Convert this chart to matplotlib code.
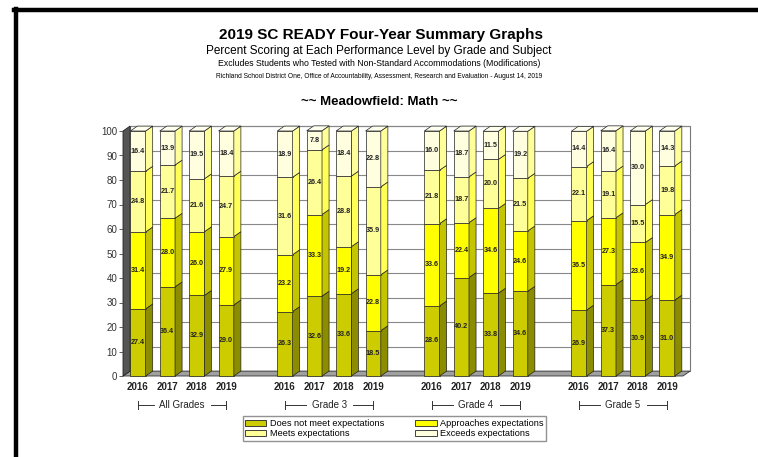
import matplotlib
import matplotlib.pyplot as plt
from matplotlib.patches import Polygon, Rectangle, Patch
from matplotlib.lines import Line2D
import matplotlib.transforms as mtransforms

matplotlib.use("Agg")
plt.rcParams['font.family'] = ['Liberation Sans', 'DejaVu Sans']

groups = ["All Grades", "Grade 3", "Grade 4", "Grade 5"]
years = ["2016", "2017", "2018", "2019"]
levels = ["Does not meet expectations", "Approaches expectations",
          "Meets expectations", "Exceeds expectations"]

# one value per bar, groups in order, years inside each group
does_not_meet = [27.4, 36.4, 32.9, 29.0, 26.3, 32.6, 33.6, 18.5,
                 28.6, 40.2, 33.8, 34.6, 26.9, 37.3, 30.9, 31.0]
approaches = [31.4, 28.0, 26.0, 27.9, 23.2, 33.3, 19.2, 22.8,
              33.6, 22.4, 34.6, 24.6, 36.5, 27.3, 23.6, 34.9]
meets = [24.8, 21.7, 21.6, 24.7, 31.6, 26.4, 28.8, 35.9,
         21.8, 18.7, 20.0, 21.5, 22.1, 19.1, 15.5, 19.8]
exceeds = [16.4, 13.9, 19.5, 18.4, 18.9, 7.8, 18.4, 22.8,
           16.0, 18.7, 11.5, 19.2, 14.4, 16.4, 30.0, 14.3]

front_colors = ["#CCCC00", "#FFFF00", "#FFFF99", "#FFFFE0"]
side_colors = ["#8C8C00", "#C4C400", "#FFFF55", "#FFFF99"]

fig = plt.figure(figsize=(7.58, 4.57), dpi=100)
ax = fig.add_axes([123 / 758, 1 - 376 / 457, 560 / 758, 245 / 457])
x0, x1 = -0.51, 18.54
ax.set_xlim(x0, x1)
ax.set_ylim(0, 100)
for s in ax.spines.values():
    s.set_visible(False)

dx, dy = 0.24, 2.0   # depth offset
w = 0.52

# back wall + grid
ax.add_patch(Rectangle((x0 + dx, dy), x1 - x0, 100, facecolor="white",
                       edgecolor="#777777", lw=0.8, clip_on=False, zorder=0))
for g in range(10, 101, 10):
    ax.plot([x0 + dx, x1 + dx], [g + dy, g + dy], color="#888888", lw=0.8,
            clip_on=False, zorder=0.5)
# floor
ax.add_patch(Polygon([(x0, 0), (x1, 0), (x1 + dx, dy), (x0 + dx, dy)],
                     facecolor="#A0A0A0", edgecolor="#333333", lw=0.6,
                     clip_on=False, zorder=1))
# left wall
ax.add_patch(Polygon([(x0, 0), (x0 + dx, dy), (x0 + dx, 100 + dy), (x0, 100)],
                     facecolor="#555555", edgecolor="#222222", lw=0.6,
                     clip_on=False, zorder=1))

series = [does_not_meet, approaches, meets, exceeds]
positions = []
for gi in range(len(groups)):
    for yi in range(len(years)):
        positions.append(gi * 5 + yi)

for i, c in enumerate(positions):
    bottom = 0.0
    for li, vals in enumerate(series):
        v = vals[i]
        top = bottom + v
        ax.add_patch(Rectangle((c - w / 2, bottom), w, v, facecolor=front_colors[li],
                               edgecolor="#222222", lw=0.5, zorder=3, clip_on=False))
        ax.add_patch(Polygon([(c + w / 2, bottom), (c + w / 2 + dx, bottom + dy),
                              (c + w / 2 + dx, top + dy), (c + w / 2, top)],
                             facecolor=side_colors[li], edgecolor="#222222",
                             lw=0.5, zorder=3, clip_on=False))
        ax.text(c, bottom + v / 2, f"{v:.1f}", ha="center", va="center",
                fontsize=5.2, fontweight="bold", color="#222222", zorder=4)
        bottom = top
    ax.add_patch(Polygon([(c - w / 2, bottom), (c - w / 2 + dx, bottom + dy),
                          (c + w / 2 + dx, bottom + dy), (c + w / 2, bottom)],
                         facecolor="#FFFFF0", edgecolor="#222222", lw=0.5,
                         zorder=3, clip_on=False))

ax.set_yticks(range(0, 101, 10))
ax.tick_params(axis="y", length=3, width=0.6, color="#444444", labelsize=7,
               labelcolor="#333333", pad=1)
ax.set_xticks(positions)
ax.set_xticklabels(years * len(groups), fontsize=7, fontweight="bold",
                   color="#222222")
ax.tick_params(axis="x", length=0, pad=4)

trans = mtransforms.blended_transform_factory(ax.transData, fig.transFigure)
gy = 1 - 405 / 457
for gi, name in enumerate(groups):
    a, b = gi * 5, gi * 5 + 3
    mid = (a + b) / 2
    half = 0.8 if name != "All Grades" else 0.97
    ax.text(mid, gy, name, transform=trans, ha="center", va="center",
            fontsize=7, color="#222222")
    for xs in ([a, mid - half], [mid + half, b]):
        ax.add_line(Line2D(xs, [gy, gy], transform=trans, color="#333333",
                           lw=0.7, clip_on=False))
    for xe in (a, b):
        ax.add_line(Line2D([xe, xe], [gy - 0.008, gy + 0.008], transform=trans,
                           color="#333333", lw=0.7, clip_on=False))

# titles
fig.text(0.502, 1 - 35 / 457, "2019 SC READY Four-Year Summary Graphs",
         ha="center", va="center", fontsize=11, fontweight="bold")
fig.text(0.5, 1 - 51 / 457,
         "Percent Scoring at Each Performance Level by Grade and Subject",
         ha="center", va="center", fontsize=8.5)
fig.text(0.5, 1 - 64 / 457,
         "Excludes Students who Tested with Non-Standard Accommodations (Modifications)",
         ha="center", va="center", fontsize=6.3)
fig.text(0.5, 1 - 77 / 457,
         "Richland School District One, Office of Accountability, Assessment, "
         "Research and Evaluation - August 14, 2019",
         ha="center", va="center", fontsize=4.8)
fig.text(0.5, 1 - 102 / 457, "~~ Meadowfield: Math ~~",
         ha="center", va="center", fontsize=9.5, fontweight="bold")

# legend
order = [0, 2, 1, 3]
handles = [Patch(facecolor=front_colors[k], edgecolor="#222222", lw=0.6,
                 label=levels[k]) for k in order]
fig.legend(handles=handles, loc="center", ncol=2,
           bbox_to_anchor=((241 + 548) / 2 / 758, 1 - 428.5 / 457),
           fontsize=6.6, frameon=True, fancybox=False, edgecolor="#777777",
           handlelength=2.3, handleheight=0.6, handletextpad=0.4,
           columnspacing=3.4, labelspacing=0.1, borderpad=0.3)

# page frame
fig.add_artist(Line2D([16 / 758, 16 / 758], [0, 1 - 9 / 457], transform=fig.transFigure,
                      color="black", lw=3.2))
fig.add_artist(Line2D([14 / 758, 1], [1 - 10 / 457, 1 - 10 / 457],
                      transform=fig.transFigure, color="black", lw=3.2))

fig.savefig("out.png", dpi=100)
